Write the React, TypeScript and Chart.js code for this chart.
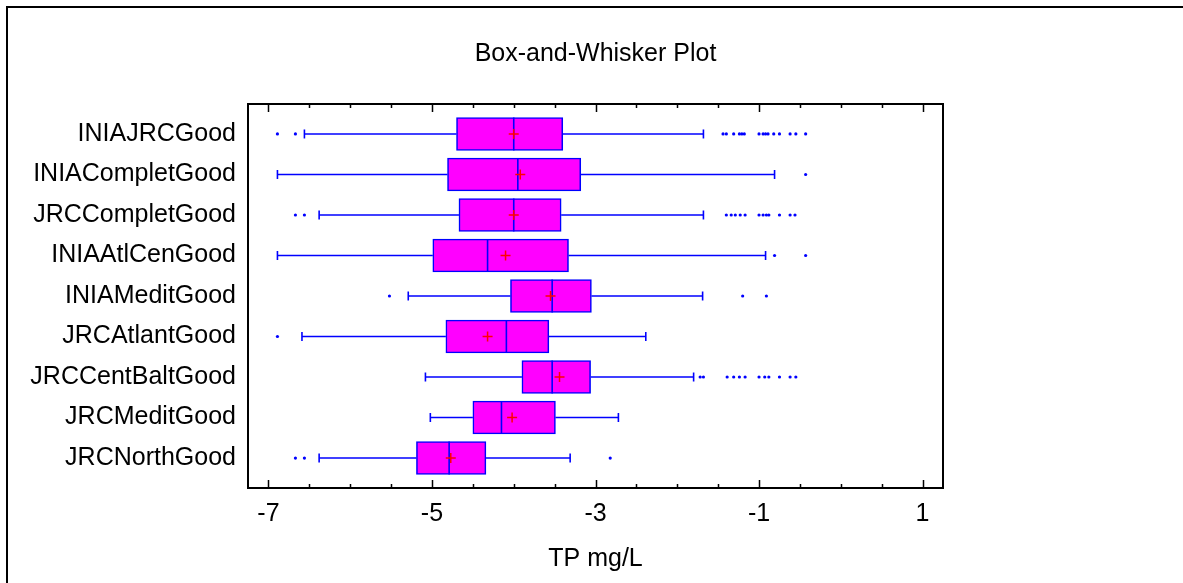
import React, { useEffect, useRef } from 'react';
import { Chart, registerables } from 'chart.js';

Chart.register(...registerables);

const categories = [
  'INIAJRCGood',
  'INIACompletGood',
  'JRCCompletGood',
  'INIAAtlCenGood',
  'INIAMeditGood',
  'JRCAtlantGood',
  'JRCCentBaltGood',
  'JRCMeditGood',
  'JRCNorthGood',
];
const q1 = [-4.70, -4.81, -4.67, -4.99, -4.04, -4.83, -3.90, -4.50, -5.19];
const q3 = [-3.40, -3.18, -3.42, -3.33, -3.05, -3.57, -3.06, -3.49, -4.34];
const medians = [-4.00, -3.95, -4.00, -4.32, -3.53, -4.09, -3.53, -4.15, -4.79];
const means = [-4.00, -3.92, -4.00, -4.10, -3.55, -4.32, -3.44, -4.02, -4.77];
const whiskerLow = [-6.56, -6.89, -6.38, -6.89, -5.29, -6.59, -5.08, -5.02, -6.38];
const whiskerHigh = [-1.68, -0.81, -1.68, -0.92, -1.69, -2.385, -1.80, -2.72, -3.31];
const outliers: number[][] = [
  [-6.89, -6.67, -1.44, -1.40, -1.31, -1.24, -1.21, -1.18, -1.00, -0.95, -0.92, -0.89, -0.82, -0.75, -0.62, -0.55, -0.43],
  [-0.43],
  [-6.67, -6.56, -1.40, -1.34, -1.29, -1.23, -1.17, -1.00, -0.95, -0.91, -0.88, -0.75, -0.62, -0.56],
  [-0.81, -0.43],
  [-5.52, -1.20, -0.91],
  [-6.89],
  [-1.72, -1.68, -1.39, -1.31, -1.24, -1.17, -1.00, -0.93, -0.88, -0.75, -0.62, -0.55],
  [],
  [-6.67, -6.56, -2.82],
];
const xTickValues = [-7, -5, -3, -1, 1];
const xMinorStep = 0.5;
const xMin = -7.25;
const xMax = 1.25;
const titleText = 'Box-and-Whisker Plot';
const xAxisTitle = 'TP mg/L';

const BLUE = '#0000FF';
const FONT_FAMILY = "'Liberation Sans', Arial, sans-serif";
const FONT_SIZE = 25;

const framePlugin = {
  id: 'plotFrame',
  afterDraw(chart: any) {
    const { ctx, chartArea: a, scales } = chart;
    const xs = scales.x;
    ctx.save();
    // title centred over the plot area
    ctx.fillStyle = '#000';
    ctx.font = `${FONT_SIZE}px ${FONT_FAMILY}`;
    ctx.textAlign = 'center';
    ctx.textBaseline = 'middle';
    ctx.fillText(titleText, (a.left + a.right) / 2, a.top / 2 + 2);

    ctx.strokeStyle = '#000';
    ctx.lineWidth = 1.5;
    const first = xTickValues[0];
    const last = xTickValues[xTickValues.length - 1];
    for (let v = first; v <= last + 1e-9; v += xMinorStep) {
      const px = Math.round(xs.getPixelForValue(v)) + 0.5;
      const major = xTickValues.some((t) => Math.abs(t - v) < 1e-9);
      const len = major ? 8 : 4;
      ctx.beginPath();
      ctx.moveTo(px, a.top);
      ctx.lineTo(px, a.top + len);
      ctx.moveTo(px, a.bottom);
      ctx.lineTo(px, a.bottom - len);
      ctx.stroke();
    }
    ctx.lineWidth = 2;
    ctx.strokeRect(a.left, a.top, a.right - a.left, a.bottom - a.top);
    ctx.restore();
  },
};

export default function App() {
  const ref = useRef<HTMLCanvasElement>(null);

  useEffect(() => {
    const canvas = ref.current;
    if (!canvas) return;
    const font = { family: FONT_FAMILY, size: FONT_SIZE };

    const whiskerSets: any[] = [];
    categories.forEach((_, i) => {
      whiskerSets.push({
        type: 'line',
        data: [{ x: whiskerLow[i], y: i }, { x: q1[i], y: i }],
        borderColor: BLUE,
        borderWidth: 1.6,
        pointRadius: 0,
        fill: false,
        order: 5,
      });
      whiskerSets.push({
        type: 'line',
        data: [{ x: q3[i], y: i }, { x: whiskerHigh[i], y: i }],
        borderColor: BLUE,
        borderWidth: 1.6,
        pointRadius: 0,
        fill: false,
        order: 5,
      });
    });

    const capData: any[] = [];
    categories.forEach((_, i) => {
      capData.push({ x: whiskerLow[i], y: i });
      capData.push({ x: whiskerHigh[i], y: i });
    });

    const outlierData: any[] = [];
    outliers.forEach((list, i) => list.forEach((v) => outlierData.push({ x: v, y: i })));

    const chart = new Chart(canvas, {
      type: 'bar',
      data: {
        datasets: [
          {
            type: 'scatter',
            data: means.map((v, i) => ({ x: v, y: i })),
            pointStyle: 'cross',
            radius: 5,
            borderColor: '#FF0000',
            borderWidth: 1.5,
            order: 0,
          } as any,
          {
            type: 'scatter',
            data: medians.map((v, i) => ({ x: v, y: i })),
            pointStyle: 'line',
            rotation: 90,
            radius: 16.5,
            borderColor: BLUE,
            borderWidth: 1.6,
            order: 1,
          } as any,
          {
            type: 'scatter',
            data: capData,
            pointStyle: 'line',
            rotation: 90,
            radius: 4.5,
            borderColor: BLUE,
            borderWidth: 1.6,
            order: 2,
          } as any,
          {
            type: 'scatter',
            data: outlierData,
            pointStyle: 'circle',
            radius: 1.6,
            backgroundColor: BLUE,
            borderColor: BLUE,
            borderWidth: 0,
            order: 3,
          } as any,
          ...whiskerSets,
          {
            type: 'bar',
            indexAxis: 'y',
            data: categories.map((_, i) => ({ x: [q1[i], q3[i]], y: i })),
            backgroundColor: '#FF00FF',
            borderColor: BLUE,
            borderWidth: 1.6,
            borderSkipped: false,
            barThickness: 33,
            order: 10,
          } as any,
        ],
      },
      options: {
        animation: false,
        responsive: false,
        events: [],
        layout: { padding: { left: 0, right: 240, top: 104, bottom: 0 } },
        plugins: {
          legend: { display: false },
          tooltip: { enabled: false },
          title: { display: false },
        },
        scales: {
          x: {
            type: 'linear',
            position: 'bottom',
            offset: false,
            min: xMin,
            max: xMax,
            afterBuildTicks: (scale: any) => {
              scale.ticks = xTickValues.map((v) => ({ value: v }));
            },
            afterFit: (scale: any) => {
              scale.height = 95;
            },
            grid: { display: false, drawTicks: false, offset: false },
            border: { display: false },
            ticks: {
              color: '#000',
              font,
              padding: 11,
              maxRotation: 0,
              autoSkip: false,
              callback: (v: any) => String(v),
            },
            title: {
              display: true,
              text: xAxisTitle,
              color: '#000',
              font,
              padding: { top: 0, bottom: 9 },
            },
          },
          y: {
            type: 'linear',
            position: 'left',
            offset: false,
            reverse: true,
            beginAtZero: false,
            min: -0.74,
            max: categories.length - 1 + 0.74,
            afterBuildTicks: (scale: any) => {
              scale.ticks = categories.map((_, i) => ({ value: i }));
            },
            afterFit: (scale: any) => {
              scale.width = 248;
            },
            grid: { display: false, drawTicks: false, offset: false },
            border: { display: false },
            ticks: {
              color: '#000',
              font,
              padding: 12,
              autoSkip: false,
              callback: (v: any) => categories[v] ?? '',
            },
          },
        },
      } as any,
      plugins: [framePlugin],
    });

    return () => chart.destroy();
  }, []);

  return (
    <div
      style={{
        position: 'fixed',
        left: 0,
        top: 0,
        width: 1183,
        height: 583,
        overflow: 'hidden',
        background: '#fff',
      }}
    >
      <div
        style={{
          position: 'absolute',
          left: 6,
          top: 6,
          width: 1400,
          height: 800,
          borderTop: '2px solid #000',
          borderLeft: '2px solid #000',
        }}
      />
      <canvas
        ref={ref}
        width={1183}
        height={583}
        style={{ position: 'absolute', left: 0, top: 0, width: 1183, height: 583 }}
      />
    </div>
  );
}
